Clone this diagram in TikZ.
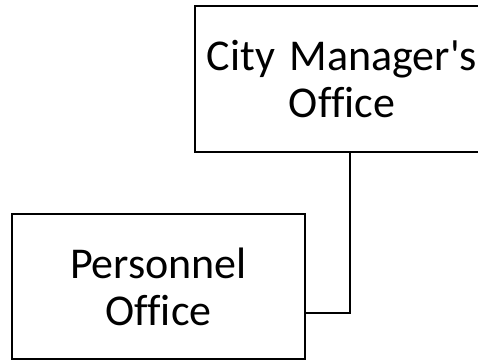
\documentclass[tikz,border=0pt]{standalone}
\usepackage{fontspec}
\setmainfont{Carlito}[Ligatures=NoCommon]
\begin{document}
\begin{tikzpicture}[x=1pt,y=-1pt,
  box/.style={draw, line width=2pt, inner sep=0pt, align=center, text width=290pt,
    font=\fontsize{44}{47}\selectfont},
  link/.style={draw, line width=2pt}]
\useasboundingbox (0,0) rectangle (478,360);
\clip (0,0) rectangle (478,360);
\node[box, minimum width=294pt, minimum height=146pt] (cm) at (342,79) {City Manager\textquotesingle s\\Office};
\node[box, minimum width=293pt, minimum height=145pt] (po) at (158.5,286.5) {Personnel\\Office};
\draw[link] ([xshift=8pt]cm.south) |- ([yshift=-26.5pt]po.east);
\end{tikzpicture}
\end{document}
